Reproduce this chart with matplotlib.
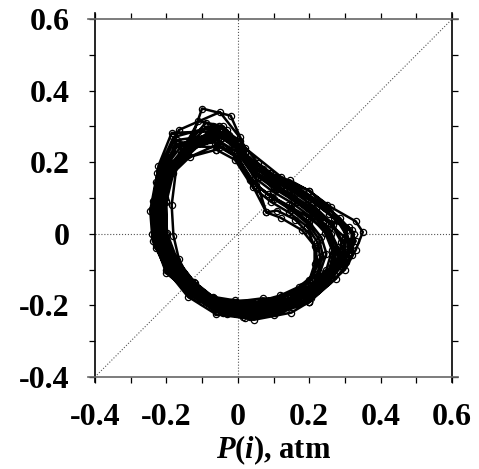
import numpy as np
import matplotlib
matplotlib.use('Agg')
import matplotlib.pyplot as plt
from matplotlib.ticker import MultipleLocator

# Фазовий портрет: P(i) -> P(i+k), атм (по обертах)
p_x = [
    -0.060, -0.008, 0.042, 0.092, 0.143, 0.194, 0.222, 0.231, 0.212, 0.171, 0.119, 0.055, -0.007, -0.069, -0.122, -0.173, -0.200, -0.200, -0.180, -0.134,
    -0.058, -0.005, 0.045, 0.095, 0.148, 0.200, 0.234, 0.248, 0.230, 0.187, 0.132, 0.062, -0.002, -0.068, -0.125, -0.178, -0.206, -0.206, -0.188, -0.140,
    -0.075, -0.012, 0.040, 0.094, 0.150, 0.208, 0.262, 0.290, 0.278, 0.232, 0.168, 0.083, 0.008, -0.058, -0.127, -0.186, -0.224, -0.229, -0.212, -0.168,
    -0.056, -0.002, 0.048, 0.098, 0.152, 0.206, 0.245, 0.264, 0.248, 0.204, 0.146, 0.070, 0.003, -0.066, -0.128, -0.182, -0.213, -0.213, -0.195, -0.146,
    -0.045, 0.004, 0.056, 0.106, 0.158, 0.210, 0.252, 0.272, 0.258, 0.214, 0.155, 0.074, 0.005, -0.062, -0.125, -0.180, -0.214, -0.218, -0.200, -0.150,
    -0.055, 0.000, 0.051, 0.101, 0.157, 0.212, 0.256, 0.280, 0.266, 0.220, 0.160, 0.077, 0.007, -0.064, -0.131, -0.187, -0.220, -0.220, -0.202, -0.152,
    -0.110, -0.040, 0.020, 0.070, 0.130, 0.195, 0.255, 0.305, 0.310, 0.265, 0.195, 0.105, 0.025, -0.055, -0.135, -0.195, -0.232, -0.236, -0.222, -0.185,
    -0.053, 0.003, 0.054, 0.104, 0.161, 0.218, 0.267, 0.297, 0.284, 0.237, 0.173, 0.085, 0.011, -0.063, -0.134, -0.191, -0.227, -0.227, -0.210, -0.158,
    -0.050, 0.000, 0.050, 0.100, 0.150, 0.198, 0.228, 0.238, 0.222, 0.180, 0.125, 0.060, -0.004, -0.066, -0.120, -0.170, -0.198, -0.202, -0.183, -0.138,
    -0.052, 0.006, 0.057, 0.107, 0.165, 0.224, 0.278, 0.313, 0.302, 0.253, 0.187, 0.092, 0.015, -0.061, -0.137, -0.196, -0.234, -0.234, -0.217, -0.164,
    -0.070, -0.020, 0.035, 0.085, 0.140, 0.200, 0.250, 0.270, 0.255, 0.210, 0.150, 0.080, 0.000, -0.070, -0.130, -0.185, -0.218, -0.222, -0.200, -0.160,
    -0.085, -0.025, 0.038, 0.088, 0.145, 0.210, 0.270, 0.320, 0.315, 0.268, 0.205, 0.110, 0.035, -0.040, -0.115, -0.185, -0.228, -0.232, -0.214, -0.170,
    -0.040, 0.010, 0.060, 0.110, 0.165, 0.215, 0.260, 0.285, 0.270, 0.225, 0.165, 0.090, 0.020, -0.050, -0.115, -0.170, -0.210, -0.215, -0.198, -0.145,
    -0.080, -0.015, 0.045, 0.095, 0.150, 0.205, 0.255, 0.300, 0.300, 0.260, 0.190, 0.100, 0.030, -0.045, -0.120, -0.180, -0.225, -0.230, -0.215, -0.175,
    -0.060, -0.005, 0.045, 0.080, 0.120, 0.180, 0.220, 0.220, 0.205, 0.170, 0.120, 0.060, 0.000, -0.065, -0.125, -0.180, -0.205, -0.208, -0.192, -0.150,
    -0.090, -0.030, 0.030, 0.090, 0.160, 0.220, 0.285, 0.325, 0.320, 0.275, 0.200, 0.100, 0.020, -0.060, -0.140, -0.200, -0.238, -0.240, -0.225, -0.180,
    -0.070, -0.010, 0.050, 0.100, 0.145, 0.200, 0.250, 0.300, 0.300, 0.270, 0.200, 0.070, -0.010, -0.080, -0.130, -0.165, -0.180, -0.185, -0.170, -0.120,
    -0.065, 0.000, 0.080, 0.110, 0.160, 0.200, 0.215, 0.215, 0.200, 0.160, 0.100, 0.045, -0.020, -0.080, -0.140, -0.190, -0.210, -0.205, -0.185, -0.140,
    -0.100, -0.020, 0.020, 0.120, 0.200, 0.260, 0.330, 0.350, 0.330, 0.300, 0.200, 0.150, 0.045, -0.030, -0.100, -0.200, -0.240, -0.245, -0.230, -0.165,
    -0.050, 0.005, 0.030, 0.080, 0.130, 0.190, 0.240, 0.310, 0.330, 0.290, 0.220, 0.120, 0.040, -0.040, -0.110, -0.175, -0.230, -0.235, -0.220, -0.190,
    -0.060,
]
p_y = [
    0.235, 0.207, 0.130, 0.090, 0.060, 0.020, -0.022, -0.064, -0.115, -0.148, -0.172, -0.190, -0.186, -0.176, -0.134, -0.072, -0.001, 0.089, 0.171, 0.215,
    0.249, 0.218, 0.142, 0.104, 0.073, 0.033, -0.010, -0.055, -0.108, -0.145, -0.175, -0.196, -0.195, -0.184, -0.140, -0.075, -0.003, 0.087, 0.173, 0.222,
    0.292, 0.262, 0.180, 0.142, 0.110, 0.072, 0.028, -0.024, -0.082, -0.132, -0.182, -0.212, -0.218, -0.205, -0.162, -0.092, -0.015, 0.075, 0.168, 0.250,
    0.262, 0.228, 0.156, 0.118, 0.086, 0.046, 0.002, -0.046, -0.100, -0.142, -0.178, -0.203, -0.204, -0.192, -0.146, -0.078, -0.004, 0.086, 0.174, 0.230,
    0.268, 0.232, 0.160, 0.124, 0.092, 0.052, 0.008, -0.042, -0.096, -0.140, -0.180, -0.205, -0.207, -0.196, -0.150, -0.082, -0.010, 0.078, 0.170, 0.232,
    0.275, 0.240, 0.169, 0.132, 0.100, 0.060, 0.014, -0.037, -0.092, -0.139, -0.181, -0.209, -0.213, -0.200, -0.152, -0.081, -0.006, 0.084, 0.176, 0.238,
    0.315, 0.300, 0.225, 0.180, 0.140, 0.100, 0.055, 0.010, -0.055, -0.120, -0.185, -0.220, -0.228, -0.218, -0.170, -0.096, -0.012, 0.092, 0.190, 0.282,
    0.287, 0.250, 0.183, 0.146, 0.113, 0.073, 0.026, -0.028, -0.085, -0.136, -0.184, -0.216, -0.222, -0.208, -0.158, -0.084, -0.007, 0.083, 0.178, 0.245,
    0.242, 0.212, 0.137, 0.098, 0.066, 0.026, -0.016, -0.060, -0.112, -0.147, -0.174, -0.193, -0.191, -0.180, -0.137, -0.072, 0.002, 0.092, 0.175, 0.220,
    0.300, 0.260, 0.197, 0.160, 0.126, 0.087, 0.038, -0.019, -0.078, -0.133, -0.187, -0.222, -0.231, -0.217, -0.164, -0.087, -0.009, 0.082, 0.180, 0.253,
    0.270, 0.235, 0.150, 0.110, 0.080, 0.045, 0.005, -0.050, -0.110, -0.150, -0.185, -0.200, -0.200, -0.195, -0.155, -0.090, -0.020, 0.070, 0.160, 0.225,
    0.300, 0.275, 0.195, 0.160, 0.125, 0.090, 0.045, 0.010, -0.050, -0.115, -0.180, -0.218, -0.232, -0.222, -0.178, -0.105, -0.030, 0.060, 0.160, 0.262,
    0.280, 0.235, 0.160, 0.125, 0.090, 0.050, 0.000, -0.050, -0.100, -0.145, -0.190, -0.215, -0.210, -0.205, -0.160, -0.095, -0.025, 0.070, 0.165, 0.240,
    0.285, 0.255, 0.175, 0.140, 0.105, 0.070, 0.030, -0.010, -0.065, -0.120, -0.175, -0.210, -0.225, -0.215, -0.170, -0.100, -0.020, 0.060, 0.155, 0.240,
    0.285, 0.250, 0.170, 0.060, 0.045, 0.010, -0.040, -0.080, -0.125, -0.158, -0.180, -0.198, -0.198, -0.188, -0.145, -0.078, -0.005, 0.085, 0.172, 0.240,
    0.310, 0.290, 0.210, 0.170, 0.135, 0.095, 0.045, 0.000, -0.060, -0.125, -0.190, -0.228, -0.235, -0.225, -0.175, -0.100, -0.020, 0.070, 0.170, 0.270,
    0.300, 0.260, 0.170, 0.130, 0.150, 0.120, 0.080, 0.020, -0.050, -0.115, -0.190, -0.180, -0.190, -0.185, -0.140, -0.070, -0.005, 0.080, 0.200, 0.250,
    0.255, 0.215, 0.060, 0.065, 0.040, 0.000, -0.035, -0.085, -0.130, -0.165, -0.185, -0.195, -0.190, -0.180, -0.135, -0.060, 0.010, 0.100, 0.180, 0.235,
    0.350, 0.330, 0.240, 0.160, 0.120, 0.075, 0.035, 0.005, -0.045, -0.100, -0.190, -0.220, -0.240, -0.225, -0.190, -0.110, 0.000, 0.065, 0.145, 0.290,
    0.340, 0.270, 0.200, 0.160, 0.120, 0.080, 0.040, 0.020, -0.020, -0.090, -0.160, -0.210, -0.220, -0.210, -0.175, -0.110, -0.040, 0.040, 0.120, 0.200,
    0.235,
]

ticks_major = [-0.4, -0.2, 0, 0.2, 0.4, 0.6]
tick_labels = ['-0.4', '-0.2', '0', '0.2', '0.4', '0.6']

plt.rcParams['font.family'] = ['Liberation Serif', 'DejaVu Serif']
plt.rcParams['font.weight'] = 'bold'
plt.rcParams['mathtext.fontset'] = 'custom'
plt.rcParams['mathtext.rm'] = 'Liberation Serif:bold'
plt.rcParams['mathtext.it'] = 'Liberation Serif:italic:bold'

fig = plt.figure(figsize=(4.79, 4.69), dpi=100)
ax = fig.add_axes([0.198, 0.196, 0.746, 0.7635])

# допоміжні лінії
ax.plot([-0.4, 0.6], [-0.4, 0.6], ls=':', color='#555555', lw=0.8)
ax.axhline(0, ls=':', color='#555555', lw=0.8)
ax.axvline(0, ls=':', color='#555555', lw=0.8)

ax.plot(p_x, p_y, '-', color='black', lw=1.8,
        marker='o', ms=4.5, mfc='none', mec='black', mew=0.9)

ax.set_xlim(-0.4, 0.6)
ax.set_ylim(-0.4, 0.6)
ax.set_xticks(ticks_major)
ax.set_xticklabels(tick_labels)
ax.set_yticks(ticks_major)
ax.set_yticklabels(tick_labels)
ax.xaxis.set_minor_locator(MultipleLocator(0.1))
ax.yaxis.set_minor_locator(MultipleLocator(0.1))

ax.tick_params(which='both', direction='out', top=True, right=True,
               length=4, width=0.9, labelsize=23)
ax.tick_params(axis='y', which='major', pad=14)
ax.tick_params(axis='x', which='major', pad=15)

# рамка як у gnuplot: трохи виступає за межі
for s in ax.spines.values():
    s.set_visible(False)
ax.plot([0, 0], [-0.014, 1.017], color='black', lw=1.2, transform=ax.transAxes, clip_on=False)
ax.plot([1, 1], [-0.014, 1.017], color='black', lw=1.2, transform=ax.transAxes, clip_on=False)
ax.plot([-0.02, 1.017], [0, 0], color='#666666', lw=1.2, transform=ax.transAxes, clip_on=False)
ax.plot([-0.02, 1.017], [1, 1], color='#666666', lw=1.2, transform=ax.transAxes, clip_on=False)

ax.set_xlabel(r'$P(i)$, atm', fontsize=22, fontweight='bold', labelpad=1)

fig.savefig('out.png', dpi=100)
